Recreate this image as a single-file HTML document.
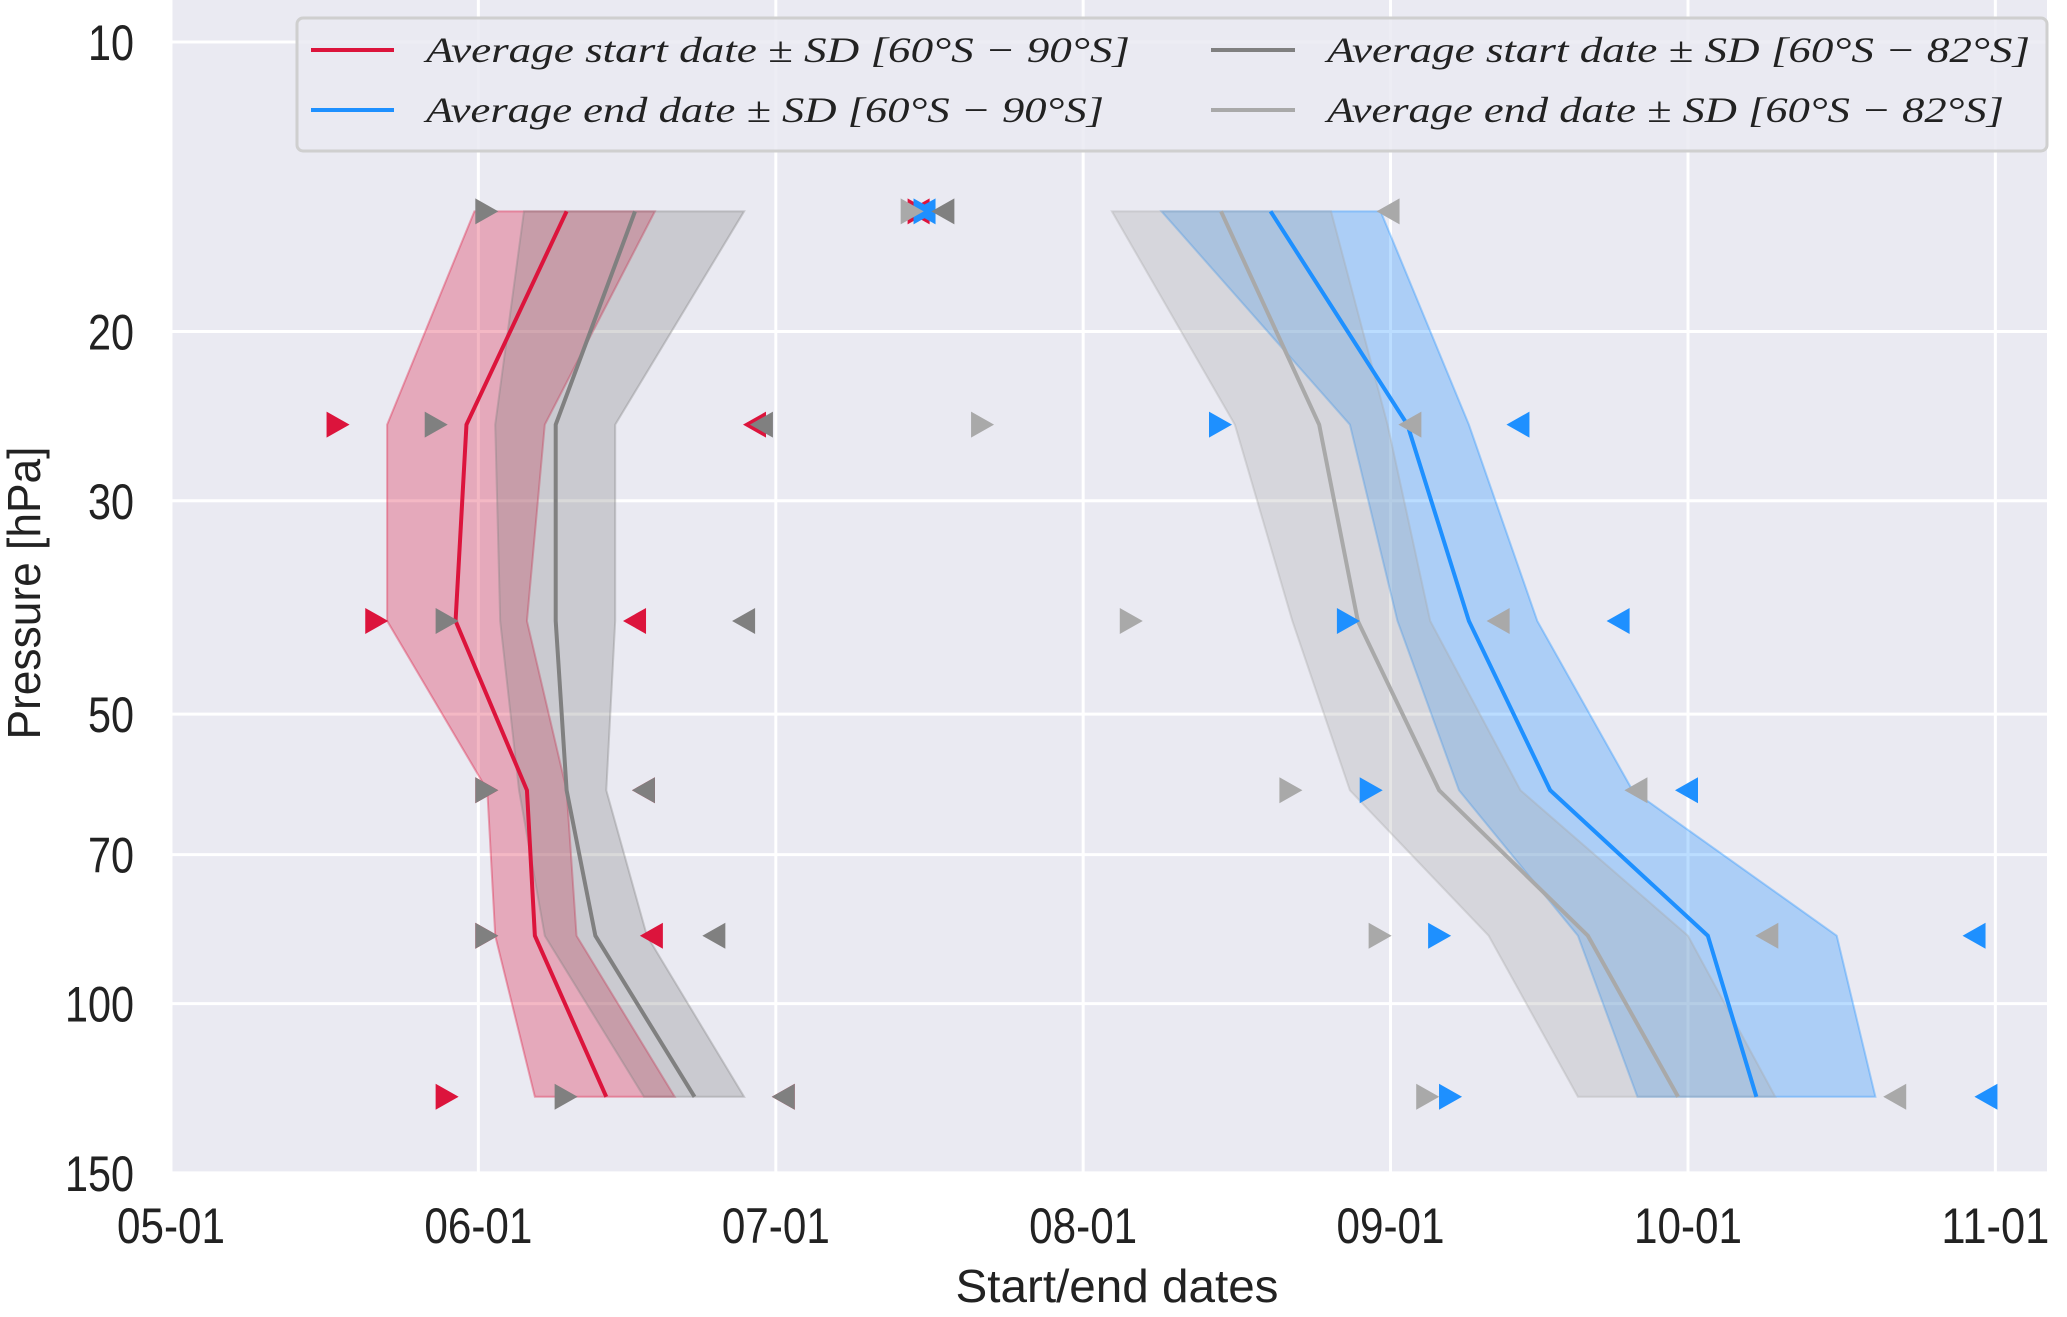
<!DOCTYPE html>
<html><head><meta charset="utf-8"><style>
html,body{margin:0;padding:0;background:#fff;}
svg{display:block;}
</style></head><body>
<svg id="chart" width="2067" height="1317" viewBox="0 0 2067 1317" xmlns="http://www.w3.org/2000/svg">
<rect x="171" y="0" width="1876" height="1173" fill="#eaeaf2"/>
<g id="grid"></g>
<g id="series"></g>
<g id="ticks"></g>
<g id="legend">
<rect x="297" y="18" width="1750" height="133" rx="6" fill="#eaeaf2" fill-opacity="0.85" stroke="#cfcfcf" stroke-width="3"/>
<line x1="311" y1="50" x2="394" y2="50" stroke="#dc143c" stroke-width="4"/>
<line x1="311" y1="110" x2="394" y2="110" stroke="#1e90ff" stroke-width="4"/>
<line x1="1211" y1="50" x2="1295" y2="50" stroke="#808080" stroke-width="4"/>
<line x1="1211" y1="110" x2="1295" y2="110" stroke="#a9a9a9" stroke-width="4"/>
<g font-family="'Liberation Serif', serif" font-style="italic" font-size="36" fill="#222">
<text x="426" y="62" textLength="704" lengthAdjust="spacingAndGlyphs">Average start date ± SD [60°S − 90°S]</text>
<text x="426" y="122" textLength="678" lengthAdjust="spacingAndGlyphs">Average end date ± SD [60°S − 90°S]</text>
<text x="1327" y="62" textLength="703" lengthAdjust="spacingAndGlyphs">Average start date ± SD [60°S − 82°S]</text>
<text x="1327" y="122" textLength="677" lengthAdjust="spacingAndGlyphs">Average end date ± SD [60°S − 82°S]</text>
</g></g>
<text x="1117" y="1302" text-anchor="middle" font-family="'Liberation Sans', sans-serif" font-size="46" fill="#222" textLength="323" lengthAdjust="spacingAndGlyphs">Start/end dates</text>
<text transform="translate(40,593) rotate(-90)" text-anchor="middle" font-family="'Liberation Sans', sans-serif" font-size="46" fill="#222" textLength="293" lengthAdjust="spacingAndGlyphs">Pressure [hPa]</text>
</svg>
<script>
const levels = [15, 25, 40, 60, 85, 125];
const xTickDays = [0, 31, 61, 92, 123, 153, 184];
const xTickLabels = ['05-01','06-01','07-01','08-01','09-01','10-01','11-01'];
const yTicks = [10, 20, 30, 50, 70, 100, 150];
// days since May 1
const redMean = [39.9, 29.8, 28.7, 35.9, 36.7, 43.9];
const redLo = [30.6, 21.8, 21.8, 31.9, 32.7, 36.7];
const redHi = [48.8, 37.7, 35.9, 39.9, 40.9, 50.8];
const redMin = [75.4, 16.8, 20.7, 31.8, 31.8, 27.8];
const redMax = [75.4, 58.9, 46.8, 47.7, 48.5, 61.8];
const dgMean = [46.8, 38.8, 38.8, 39.9, 42.8, 52.8];
const dgLo = [35.6, 32.7, 33.2, 35.1, 37.7, 47.7];
const dgHi = [57.8, 44.8, 44.8, 43.9, 48.0, 57.8];
const dgMin = [31.8, 26.7, 27.8, 31.8, 31.8, 39.8];
const dgMax = [77.9, 59.6, 57.8, 47.7, 54.8, 61.8];
const blueMean = [110.9, 124.7, 130.9, 139.1, 155.0, 159.9];
const blueLo = [99.9, 118.9, 123.7, 129.9, 141.9, 147.9];
const blueHi = [122.0, 130.9, 137.8, 147.4, 168.0, 171.9];
const blueMin = [76.0, 105.8, 118.7, 121.0, 127.9, 129.0];
const blueMax = [76.0, 135.9, 146.0, 152.9, 181.9, 183.1];
const lgMean = [105.9, 115.8, 119.7, 127.9, 142.9, 152.0];
const lgLo = [94.9, 107.3, 113.1, 118.9, 132.9, 141.9];
const lgHi = [117.0, 122.7, 127.0, 136.1, 153.0, 161.8];
const lgMin = [74.7, 81.8, 96.8, 112.9, 121.9, 126.7];
const lgMax = [122.8, 125.0, 133.9, 147.8, 161.0, 173.9];

const NS = 'http://www.w3.org/2000/svg';
const X = d => 171 + d * 9.915;
const Y = p => 42 + 961.6 * Math.log10(p / 10);
function mk(tag, attrs, parent){const e=document.createElementNS(NS,tag);for(const k in attrs)e.setAttribute(k,attrs[k]);parent.appendChild(e);return e;}
const grid=document.getElementById('grid'), ser=document.getElementById('series'), tk=document.getElementById('ticks');
xTickDays.forEach((d,i)=>{
  const l=mk('line',{x1:X(d),x2:X(d),y1:0,y2:1173,stroke:'#fff','stroke-width':3},grid);
   
  const t=mk('text',{x:X(d),y:1243,'text-anchor':'middle','font-family':"'Liberation Sans', sans-serif",'font-size':50,fill:'#222',textLength:108,lengthAdjust:'spacingAndGlyphs'},tk);
  t.textContent=xTickLabels[i];
   
});
yTicks.forEach(p=>{
  const l=mk('line',{x1:171,x2:2047,y1:Y(p),y2:Y(p),stroke:'#fff','stroke-width':3},grid);
   
  const s=String(p);
  const t=mk('text',{x:134,y:Y(p)+18,'text-anchor':'end','font-family':"'Liberation Sans', sans-serif",'font-size':50,fill:'#222',textLength:s.length*23,lengthAdjust:'spacingAndGlyphs'},tk);
  t.textContent=s;
   
});
function band(lo,hi,color,name){
  let pts=levels.map((p,i)=>X(lo[i])+','+Y(p));
  pts=pts.concat(levels.map((p,i)=>X(hi[i])+','+Y(p)).reverse());
  const e=mk('polygon',{points:pts.join(' '),fill:color,'fill-opacity':0.3,stroke:color,'stroke-opacity':0.35,'stroke-width':2},ser);
   
}
function line(m,color,name){
  const e=mk('polyline',{points:levels.map((p,i)=>X(m[i])+','+Y(p)).join(' '),fill:'none',stroke:color,'stroke-width':4},ser);
   
}
function tris(arr,color,dir,name){
  arr.forEach((d,i)=>{
    const x=X(d), y=Y(levels[i]);
    const pts = dir>0 ? [[x-11,y-13],[x+12,y],[x-11,y+13]] : [[x+11,y-13],[x-12,y],[x+11,y+13]];
    const e=mk('polygon',{points:pts.map(q=>q.join(',')).join(' '),fill:color},ser);
     
  });
}
band(redLo,redHi,'#dc143c','band-start-60-90');
band(dgLo,dgHi,'#808080','band-start-60-82');
band(blueLo,blueHi,'#1e90ff','band-end-60-90');
band(lgLo,lgHi,'#a9a9a9','band-end-60-82');
line(redMean,'#dc143c','line-start-60-90');
line(dgMean,'#808080','line-start-60-82');
line(blueMean,'#1e90ff','line-end-60-90');
line(lgMean,'#a9a9a9','line-end-60-82');
tris(redMin,'#dc143c',1,'marker-min-start-60-90');
tris(redMax,'#dc143c',-1,'marker-max-start-60-90');
tris(blueMin,'#1e90ff',1,'marker-min-end-60-90');
tris(blueMax,'#1e90ff',-1,'marker-max-end-60-90');
tris(dgMin,'#808080',1,'marker-min-start-60-82');
tris(dgMax,'#808080',-1,'marker-max-start-60-82');
tris(lgMin,'#a9a9a9',1,'marker-min-end-60-82');
tris(lgMax,'#a9a9a9',-1,'marker-max-end-60-82');
</script>
</body></html>
